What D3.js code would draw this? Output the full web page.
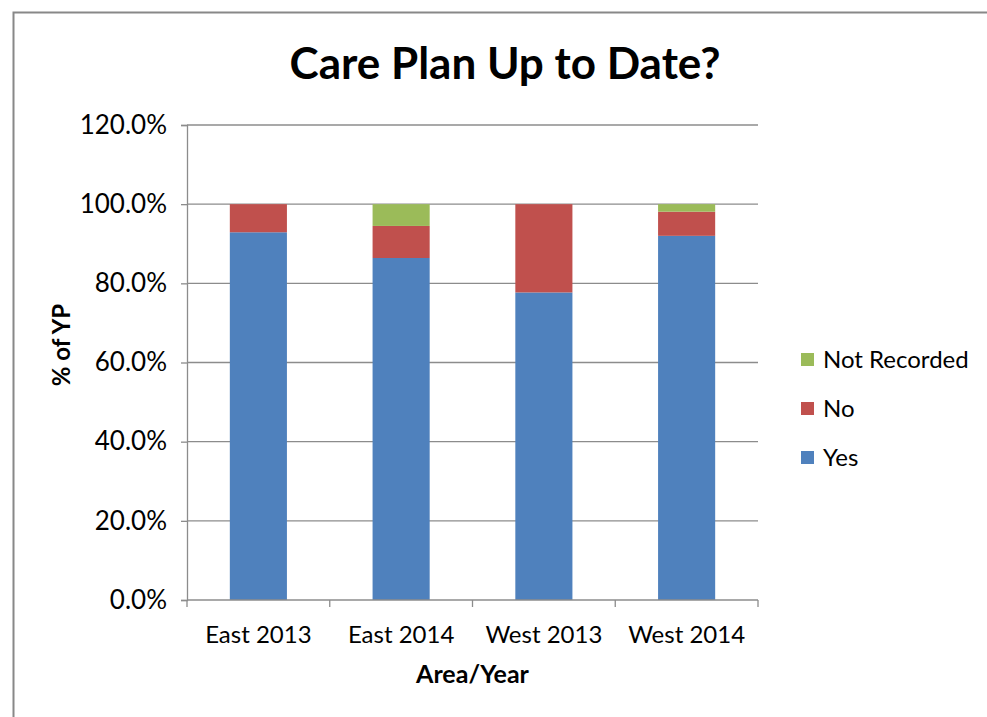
<!DOCTYPE html>
<html>
<head>
<meta charset="utf-8">
<script src="https://cdn.jsdelivr.net/npm/d3@7"></script>
<style>
  body { margin: 0; background: #fff; }
  text { font-family: Lato, "Open Sans", sans-serif; }
</style>
</head>
<body>
<div class="chart"></div>
<script>
var categories = ['East 2013', 'East 2014', 'West 2013', 'West 2014'];
var seriesNames = ['Yes', 'No', 'Not Recorded'];
var yesValues = [92.9, 86.4, 77.7, 92.0];
var noValues = [7.1, 8.1, 22.3, 6.1];
var notRecordedValues = [0, 5.5, 0, 1.9];
var yTicks = [0, 20, 40, 60, 80, 100, 120];
var colors = { 'Yes': '#4f81bd', 'No': '#c0504d', 'Not Recorded': '#9bbb59' };

var margin = { top: 125, right: 229, bottom: 117, left: 187 };
var width = 987 - margin.left - margin.right;
var height = 717 - margin.top - margin.bottom;

var rows = categories.map(function (c, i) {
  return { name: c, 'Yes': yesValues[i], 'No': noValues[i], 'Not Recorded': notRecordedValues[i] };
});

var root = d3.select('.chart')
  .append('svg')
    .attr('width', 987)
    .attr('height', 717);

// chart frame
root.append('rect')
  .attr('x', 13.5).attr('y', 12.5)
  .attr('width', 1000).attr('height', 800)
  .attr('fill', 'none')
  .attr('stroke', '#888')
  .attr('stroke-width', 2);

root.append('text')
  .attr('x', 505).attr('y', 79)
  .attr('text-anchor', 'middle')
  .style('font-size', '44px')
  .style('font-weight', 'bold')
  .text('Care Plan Up to Date?');

var svg = root.append('g')
  .attr('transform', 'translate(' + margin.left + ', ' + margin.top + ')');

var xScale = d3.scaleBand()
  .domain(categories)
  .range([0, width])
  .paddingInner(0.6)
  .paddingOuter(0.3);

var yScale = d3.scaleLinear()
  .domain([0, 120])
  .range([height, 0]);

// gridlines
svg.append('g')
  .selectAll('line')
  .data(yTicks.filter(d => d > 0))
  .enter().append('line')
    .attr('x1', 0).attr('x2', width)
    .attr('y1', d => yScale(d)).attr('y2', d => yScale(d))
    .attr('stroke', '#8c8c8c')
    .attr('stroke-width', 1.3);

var stack = d3.stack().keys(seriesNames);
svg.append('g')
  .selectAll('g')
  .data(stack(rows))
  .enter().append('g')
    .attr('fill', d => colors[d.key])
  .selectAll('rect')
  .data(d => d)
  .enter().append('rect')
    .attr('x', d => xScale(d.data.name))
    .attr('y', d => yScale(d[1]))
    .attr('width', xScale.bandwidth())
    .attr('height', d => yScale(d[0]) - yScale(d[1]));

var yAxis = svg.append('g')
  .call(d3.axisLeft(yScale).tickValues(yTicks).tickSize(6).tickPadding(14)
    .tickFormat(d => d.toFixed(1) + '%'));
yAxis.select('.domain').attr('stroke', '#8c8c8c').attr('stroke-width', 1.3);
yAxis.selectAll('.tick line').attr('stroke', '#8c8c8c').attr('stroke-width', 1.3);
yAxis.selectAll('.tick text')
  .style('font-size', '26px')
  .style('font-family', 'Lato, "Open Sans", sans-serif')
  .attr('fill', '#000');

var xAxis = svg.append('g')
  .attr('transform', `translate(0, ${height})`);
xAxis.append('line')
  .attr('x1', 0).attr('x2', width)
  .attr('stroke', '#8c8c8c').attr('stroke-width', 1.3);
xAxis.selectAll('.bound')
  .data(d3.range(categories.length + 1))
  .enter().append('line')
    .attr('x1', d => d * width / categories.length)
    .attr('x2', d => d * width / categories.length)
    .attr('y1', 0).attr('y2', 7)
    .attr('stroke', '#8c8c8c').attr('stroke-width', 1.3);
xAxis.selectAll('.lbl')
  .data(categories)
  .enter().append('text')
    .attr('x', d => xScale(d) + xScale.bandwidth() / 2)
    .attr('y', 43)
    .attr('text-anchor', 'middle')
    .style('font-size', '24px')
    .text(d => d);

root.append('text')
  .attr('x', margin.left + width / 2).attr('y', 683)
  .attr('text-anchor', 'middle')
  .style('font-size', '25px')
  .style('font-weight', 'bold')
  .text('Area/Year');

root.append('text')
  .attr('transform', 'translate(70, 345) rotate(-90)')
  .attr('text-anchor', 'middle')
  .style('font-size', '24px')
  .style('font-weight', 'bold')
  .text('% of YP');

// legend
var legendItems = seriesNames.slice().reverse();
var legend = root.append('g')
  .selectAll('g')
  .data(legendItems)
  .enter().append('g')
    .attr('transform', (d, i) => 'translate(801, ' + (353 + i * 49) + ')');
legend.append('rect')
  .attr('width', 13).attr('height', 13)
  .attr('fill', d => colors[d]);
legend.append('text')
  .attr('x', 22).attr('y', 15)
  .style('font-size', '24px')
  .text(d => d);
</script>
</body>
</html>
